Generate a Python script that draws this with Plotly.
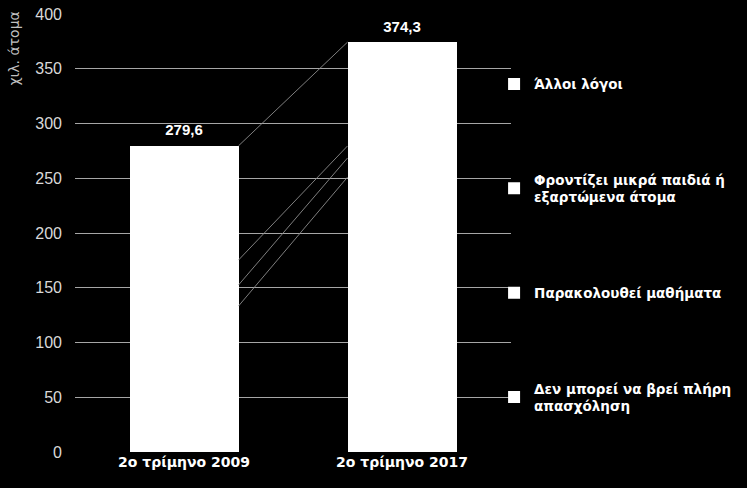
import plotly.graph_objects as go

categories = ["2ο τρίμηνο 2009", "2ο τρίμηνο 2017"]
series_names = [
    "Δεν μπορεί να βρεί πλήρη<br>απασχόληση",
    "Παρακολουθεί μαθήματα",
    "Φροντίζει μικρά παιδιά ή<br>εξαρτώμενα άτομα",
    "Άλλοι λόγοι",
]
cant_find_full = [133.3, 251.0]
attends_courses = [19.2, 17.5]
cares_children = [22.8, 11.0]
other_reasons = [104.3, 94.8]
series_values = [cant_find_full, attends_courses, cares_children, other_reasons]

x_pos = list(range(len(categories)))
bar_width = 0.5

fig = go.Figure()
for i, (name, vals) in enumerate(zip(series_names, series_values)):
    fig.add_trace(go.Bar(
        x=x_pos, y=vals, name=name, width=bar_width,
        marker=dict(color="white", line=dict(width=0)),
        legendgroup=f"g{i}", legendrank=100 - i,
        hoverinfo="skip",
    ))

# series lines connecting cumulative segment tops
cum = [0.0, 0.0]
for i, vals in enumerate(series_values):
    cum = [c + v for c, v in zip(cum, vals)]
    fig.add_trace(go.Scatter(
        x=[x_pos[0] + bar_width / 2, x_pos[1] - bar_width / 2],
        y=list(cum), mode="lines",
        line=dict(color="#8c8c8c", width=0.9),
        showlegend=False, hoverinfo="skip",
    ))

totals = [round(c, 1) for c in cum]
fig.add_trace(go.Scatter(
    x=x_pos, y=totals, mode="markers+text",
    marker=dict(size=9, opacity=0),
    text=[f"{t:.1f}".replace(".", ",") for t in totals],
    textposition="top center",
    textfont=dict(color="white", size=15, family="Liberation Sans", weight="bold"),
    showlegend=False, hoverinfo="skip", cliponaxis=False,
))

fig.update_layout(
    width=747, height=488,
    paper_bgcolor="black", plot_bgcolor="black",
    barmode="stack",
    margin=dict(l=75, r=235, t=14, b=36),
    font=dict(family="Liberation Sans", color="white"),
    showlegend=True,
    legend=dict(
        x=0.959, xanchor="left", y=0.875, yanchor="top",
        font=dict(size=13.5, color="white", family="DejaVu Sans", weight="bold"),
        tracegroupgap=75, bgcolor="rgba(0,0,0,0)",
        traceorder="grouped",
    ),
    xaxis=dict(
        range=[-0.5, 1.5], tickvals=x_pos, ticktext=categories,
        showgrid=False, zeroline=False, showline=False, automargin=False,
        tickfont=dict(size=14, color="white", family="DejaVu Sans", weight="bold"),
        ticks="",
    ),
    yaxis=dict(
        range=[0, 400], dtick=50, showgrid=True, gridcolor="#a6a6a6", gridwidth=1,
        zeroline=False, showline=False, ticks="", automargin=False,
        tickfont=dict(size=16, color="#d9d9d9", family="Liberation Sans"),
        ticklabelstandoff=12,
    ),
    annotations=[dict(
        text="χιλ. άτομα", x=-0.14, xref="paper", y=1.01, yref="paper",
        xanchor="center", yanchor="top", textangle=-90, showarrow=False,
        font=dict(size=14, color="#bfbfbf", family="DejaVu Sans"),
    )],
)

fig.write_html("out.html", config={"displayModeBar": False},
               post_script="document.body.style.margin='0';")
